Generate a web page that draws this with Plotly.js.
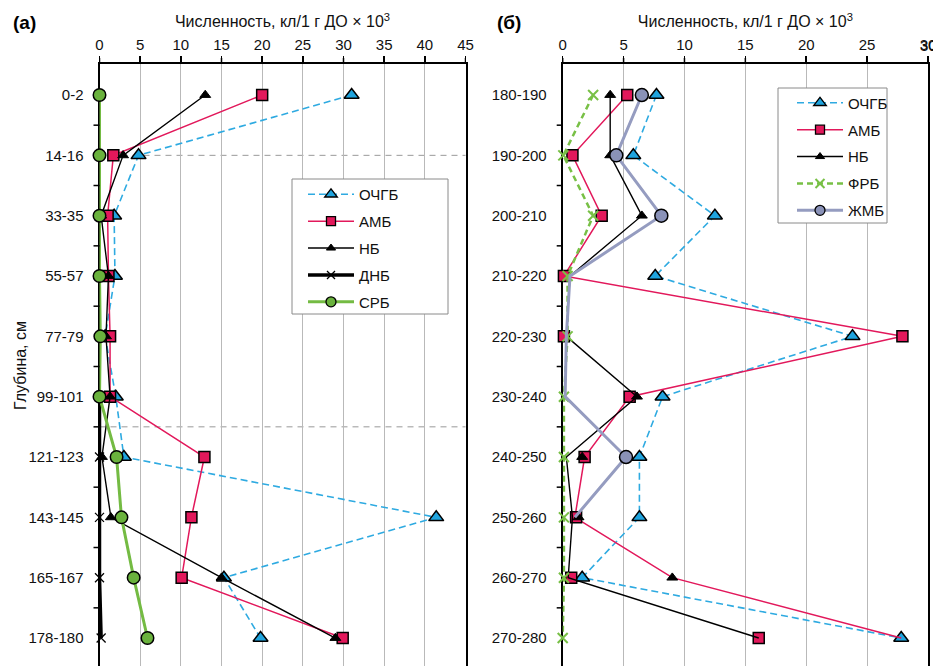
<!DOCTYPE html>
<html>
<head>
<meta charset="utf-8">
<script src="https://cdn.plot.ly/plotly-3.0.1.min.js"></script>
<style>html,body{margin:0;padding:0;background:#fff;}</style>
</head>
<body>
<div id="chart" style="width:933px;height:666px;"></div>
<script>
// ---------- Panel (а) ----------
const depthA = ['0-2','14-16','33-35','55-57','77-79','99-101','121-123','143-145','165-167','178-180'];
const ochgbA = [31.0, 4.8, 1.8, 1.9, 0.7, 2.0, 3.0, 41.4, 15.3, 19.8];
const ambA   = [20.0, 1.7, 1.0, 1.1, 1.3, 1.3, 12.9, 11.3, 10.1, 29.9];
const nbA    = [13.0, 2.9, 0.2, 1.1, 0.8, 1.3, 0.3, 1.4, 15.0, 29.0];
const dnbA   = [null, null, null, null, null, 0.0, 0.0, 0.0, 0.0, 0.2];
const srbA   = [0.0, 0.0, 0.0, 0.0, 0.1, 0.0, 2.1, 2.7, 4.2, 5.9];

// ---------- Panel (б) ----------
const depthB = ['180-190','190-200','200-210','210-220','220-230','230-240','240-250','250-260','260-270','270-280'];
const ochgbB      = [7.7, 5.8, 12.5, 7.6, 23.8, 8.2, 6.3, 6.3, 1.6, 27.8];
const ambBLine    = [5.3, 0.8, 3.2, 0.1, 27.9, 5.5, 1.8, 1.0, 9.0, 27.8];
const ambBMarks   = [5.3, 0.8, 3.2, 0.1, 27.9, 5.5, 1.8, 1.1, 0.7, 16.1];
const ambBExtra   = [null, null, null, null, 0.1, null, null, null, null, null];
const nbBLine     = [3.9, 3.9, 6.5, 0.6, 0.3, 6.1, 0.3, 0.8, 0.45, 16.1];
const nbBMarks    = [3.9, 3.9, 6.5, null, null, 6.1, 1.6, 1.3, 9.0, null];
const frbB        = [2.5, 0.05, 2.5, 0.4, 0.4, 0.1, 0.1, 0.1, 0.1, 0.0];
const zhmbBLine   = [6.5, 4.4, 8.1, 0.6, 0.3, 0.2, 5.2, 1.0, null, null];
const zhmbBMarks  = [6.5, 4.4, 8.1, null, null, null, 5.2, null, null, null];

// x tick values
const xTicksA = [0, 5, 10, 15, 20, 25, 30, 35, 40, 45];
const xTicksB = [0, 5, 10, 15, 20, 25, 30];

const xTitle = 'Численность, кл/1 г ДО × 10<sup>3</sup>';

// category positions (row index) derived from the depth lists
const posA = depthA.map((_, i) => i);
const posB = depthB.map((_, i) => i);
const bndA = posA.slice(1).map(i => i - 0.5);
const bndB = posB.slice(1).map(i => i - 0.5);

// ---------- styles ----------
const BLUE = '#1fa4de', RED = '#e2185b', GREEN = '#74bb43', GMARK = '#6ab23d', VIOLET = '#959cc0', VMARK = '#8a92b8';
const ST = {
  ochgb: {line:{color:'#2eaae1', width:1.6, dash:'7px,4px'}, marker:{symbol:'triangle-up', size:13, color:BLUE, line:{color:'#000', width:1.5}}, lm:{symbol:'triangle-up', size:11, color:BLUE, line:{color:'#000', width:1.3}}},
  amb:   {line:{color:RED, width:1.5}, marker:{symbol:'square', size:11, color:RED, line:{color:'#000', width:1.5}}, lm:{symbol:'square', size:9, color:RED, line:{color:'#000', width:1.3}}},
  nb:    {line:{color:'#000', width:1.4}, marker:{symbol:'triangle-up', size:9.5, color:'#000', line:{color:'#000', width:1}}, lm:{symbol:'triangle-up', size:8, color:'#000', line:{color:'#000', width:1}}},
  dnb:   {line:{color:'#000', width:3.5}, marker:{symbol:'x-thin-open', size:9, color:'#000', line:{color:'#000', width:1.3}}, lm:{symbol:'x-thin-open', size:8, color:'#000', line:{color:'#000', width:1.3}}},
  srb:   {line:{color:GREEN, width:3}, marker:{symbol:'circle', size:12.5, color:GMARK, line:{color:'#000', width:1.5}}, lm:{symbol:'circle', size:10, color:GMARK, line:{color:'#000', width:1.3}}},
  frb:   {line:{color:'#78c046', width:2.5, dash:'6px,4px'}, marker:{symbol:'x-thin-open', size:10, color:'#78c046', line:{color:'#78c046', width:2}}, lm:{symbol:'x-thin-open', size:9, color:'#78c046', line:{color:'#78c046', width:2}}},
  zhmb:  {line:{color:VIOLET, width:3}, marker:{symbol:'circle', size:13, color:VMARK, line:{color:'#000', width:1.5}}, lm:{symbol:'circle', size:10, color:VMARK, line:{color:'#000', width:1.3}}}
};

const traces = [];
function addSeries(name, pos, lineVals, markVals, st, xa, ya, lg, extra) {
  const grp = lg + '_' + name;
  traces.push({type:'scatter', mode:'lines', x:lineVals, y:pos, xaxis:xa, yaxis:ya, line:st.line,
    showlegend:false, legendgroup:grp, legend:lg, cliponaxis:false, hoverinfo:'skip'});
  traces.push({type:'scatter', mode:'markers', x:markVals, y:pos, xaxis:xa, yaxis:ya, marker:st.marker,
    showlegend:false, legendgroup:grp, legend:lg, cliponaxis:false, name:name});
  if (extra) {
    traces.push({type:'scatter', mode:'markers', x:extra, y:pos, xaxis:xa, yaxis:ya, marker:st.marker,
      showlegend:false, legendgroup:grp, legend:lg, cliponaxis:false, name:name});
  }
  traces.push({type:'scatter', mode:'lines+markers', x:[null], y:[null], xaxis:xa, yaxis:ya, line:st.line, marker:st.lm,
    name:name, showlegend:true, legendgroup:grp, legend:lg});
}

addSeries('ОЧГБ', posA, ochgbA, ochgbA, ST.ochgb, 'x', 'y', 'legend');
addSeries('АМБ',  posA, ambA,   ambA,   ST.amb,   'x', 'y', 'legend');
addSeries('НБ',   posA, nbA,    nbA,    ST.nb,    'x', 'y', 'legend');
addSeries('ДНБ',  posA, dnbA,   dnbA,   ST.dnb,   'x', 'y', 'legend');
addSeries('СРБ',  posA, srbA,   srbA,   ST.srb,   'x', 'y', 'legend');

addSeries('ОЧГБ', posB, ochgbB,   ochgbB,    ST.ochgb, 'x2', 'y2', 'legend2');
addSeries('АМБ',  posB, ambBLine, ambBMarks, ST.amb,   'x2', 'y2', 'legend2', ambBExtra);
addSeries('НБ',   posB, nbBLine,  nbBMarks,  ST.nb,    'x2', 'y2', 'legend2');
addSeries('ФРБ',  posB, frbB,     frbB,      ST.frb,   'x2', 'y2', 'legend2');
addSeries('ЖМБ',  posB, zhmbBLine, zhmbBMarks, ST.zhmb, 'x2', 'y2', 'legend2');

const FONT = 'Arial, "Liberation Sans", sans-serif';
// paper y from page pixel (plot area spans 64..666)
const T = 64, H = 602;
const py = px => 1 - (px - T) / H;
const pxX = px => px / 933;
const YR = [9.464, -0.514];
const DOM_A = [99.5/933, 465.5/933], DOM_B = [562.7/933, 928/933];

function xAx(domain, range, anchor, tv) {
  return {domain, range, anchor, side:'top', tickmode:'array', tickvals:tv, showgrid:true, gridcolor:'#b9b9b9', gridwidth:1,
    showline:true, linecolor:'#000', linewidth:2, ticks:'outside', ticklen:6, tickwidth:1.5, tickcolor:'#000',
    zeroline:false, layer:'below traces', fixedrange:true, ticklabeloverflow:'allow',
    tickfont:{size:15, color:'#111'},
    title:{text:xTitle, font:{size:16, color:'#111'}, standoff:4}};
}
function yAx(pos, labels, anchor) {
  return {type:'linear', range:YR, anchor,
    tickmode:'array', tickvals:pos, ticktext:labels,
    ticks:'outside', ticklen:6, tickwidth:1.5, tickcolor:'rgba(0,0,0,0)', ticklabelstandoff:5,
    showline:true, linecolor:'#000', linewidth:2, mirror:true, showgrid:false, zeroline:false,
    layer:'below traces', fixedrange:true, tickfont:{size:15, color:'#111'}};
}

// tick-mark decorations (boundary ticks on the depth axes, value ticks above the top axes)
const tickShapes = [];
function yBoundaryTicks(bnd, yref, xPaper) {
  bnd.forEach(b => tickShapes.push({type:'line', xref:'paper', xsizemode:'pixel', xanchor:xPaper, x0:-6, x1:0,
    yref, y0:b, y1:b, layer:'above', line:{color:'#000', width:1.5}}));
}
function xTopTicks(tv, xref) {
  tv.forEach(v => tickShapes.push({type:'line', xref, x0:v, x1:v, yref:'paper', ysizemode:'pixel', yanchor:1, y0:0, y1:6,
    layer:'above', line:{color:'#000', width:1.5}}));
}
yBoundaryTicks(bndA, 'y', DOM_A[0]);
yBoundaryTicks(bndB, 'y2', DOM_B[0]);
xTopTicks(xTicksA, 'x');
xTopTicks(xTicksB, 'x2');

const layout = {
  width:933, height:666,
  margin:{l:0, r:0, t:T, b:0, pad:0},
  paper_bgcolor:'#fff', plot_bgcolor:'#fff',
  font:{family:FONT, size:15, color:'#111'},
  xaxis: xAx(DOM_A, [0,45], 'y', xTicksA),
  yaxis: yAx(posA, depthA, 'x'),
  xaxis2: xAx(DOM_B, [0,30], 'y2', xTicksB),
  yaxis2: yAx(posB, depthB, 'x2'),
  legend: {x:pxX(303), y:py(178), xanchor:'left', yanchor:'top', bgcolor:'rgba(0,0,0,0)', borderwidth:0,
    font:{size:15, color:'#111'}, itemwidth:46, tracegroupgap:4.4, traceorder:'grouped', itemclick:false},
  legend2: {x:pxX(792), y:py(86.5), xanchor:'left', yanchor:'top', bgcolor:'rgba(0,0,0,0)', borderwidth:0,
    font:{size:15, color:'#111'}, itemwidth:46, tracegroupgap:4.4, traceorder:'grouped', itemclick:false},
  shapes: [
    {type:'line', xref:'x domain', x0:0, x1:1, yref:'y', y0:1, y1:1, layer:'below', line:{color:'#999', width:1, dash:'6px,5px'}},
    {type:'line', xref:'x domain', x0:0, x1:1, yref:'y', y0:5.5, y1:5.5, layer:'below', line:{color:'#999', width:1, dash:'6px,5px'}},
    {type:'rect', xref:'paper', yref:'paper', x0:pxX(292), x1:pxX(448), y0:py(314), y1:py(179), layer:'above', fillcolor:'#fff', line:{color:'#8a8a8a', width:1}},
    {type:'rect', xref:'paper', yref:'paper', x0:pxX(778), x1:pxX(887), y0:py(223), y1:py(88), layer:'above', fillcolor:'#fff', line:{color:'#8a8a8a', width:1}}
  ].concat(tickShapes),
  annotations: [
    {text:'<b>(а)</b>', xref:'paper', yref:'paper', x:pxX(11), y:py(23), xanchor:'left', yanchor:'middle', showarrow:false, font:{size:19, color:'#000'}},
    {text:'<b>(б)</b>', xref:'paper', yref:'paper', x:pxX(495), y:py(23), xanchor:'left', yanchor:'middle', showarrow:false, font:{size:19, color:'#000'}},
    {text:'Глубина, см', xref:'paper', yref:'paper', x:pxX(20), y:py(366), xanchor:'center', yanchor:'middle', textangle:-90, showarrow:false, font:{size:16, color:'#111'}},
    {text:'30', xref:'x2', yref:'paper', x:30, y:py(45), xanchor:'center', yanchor:'middle', showarrow:false, font:{size:15, color:'#111'}}
  ],
  showlegend:true
};

Plotly.newPlot('chart', traces, layout, {staticPlot:true, displayModeBar:false});
</script>
</body>
</html>
